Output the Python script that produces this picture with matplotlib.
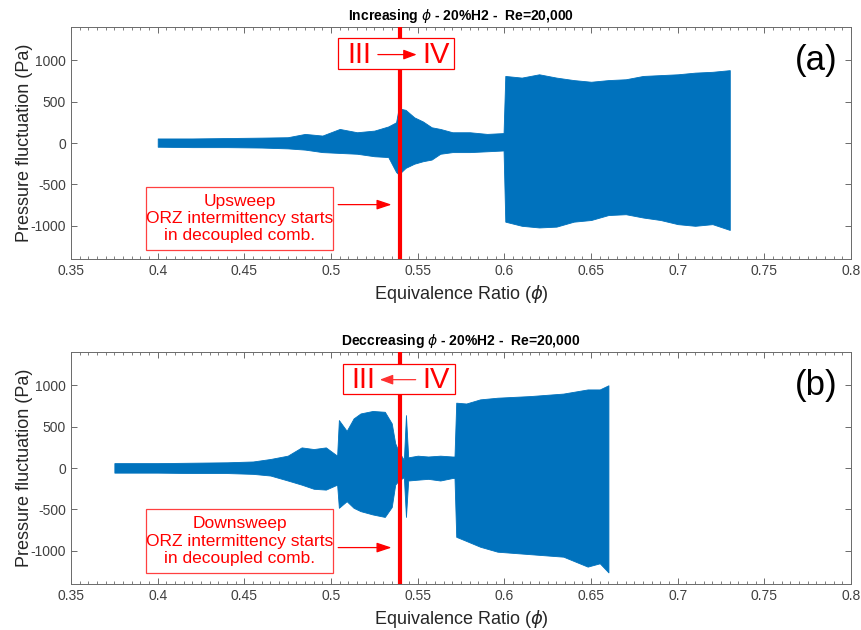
import matplotlib
matplotlib.use("Agg")
import matplotlib.pyplot as plt
from matplotlib.patches import Rectangle
from matplotlib.ticker import MultipleLocator, FuncFormatter

plt.rcParams['font.family'] = ['Liberation Sans', 'DejaVu Sans']
plt.rcParams['axes.unicode_minus'] = False

# envelope of the pressure signal
phi_a = [0.400, 0.420, 0.440, 0.460, 0.475, 0.485, 0.495, 0.505, 0.515, 0.525,
         0.533, 0.5375, 0.539, 0.543, 0.548, 0.553, 0.558, 0.563, 0.570, 0.580,
         0.590, 0.5995, 0.6005, 0.610, 0.620, 0.630, 0.640, 0.650, 0.660, 0.670,
         0.680, 0.690, 0.700, 0.710, 0.720, 0.730]
hi_a = [55, 55, 60, 65, 70, 110, 90, 170, 130, 150,
        200, 250, 420, 400, 310, 260, 190, 170, 130, 130,
        110, 120, 810, 790, 830, 790, 760, 740, 760, 770,
        810, 820, 830, 850, 860, 880]
lo_a = [-45, -50, -50, -55, -65, -80, -110, -120, -130, -160,
        -170, -350, -380, -300, -250, -220, -200, -130, -110, -110,
        -100, -90, -950, -1000, -1020, -1010, -950, -930, -870, -860,
        -900, -930, -980, -1000, -980, -1050]

phi_b = [0.375, 0.400, 0.420, 0.440, 0.455, 0.465, 0.475, 0.483, 0.490, 0.497,
         0.5035, 0.5045, 0.509, 0.513, 0.517, 0.524, 0.531, 0.535, 0.537, 0.539,
         0.542, 0.5432, 0.5445, 0.550, 0.556, 0.563, 0.570, 0.5712, 0.5722, 0.578,
         0.586, 0.596, 0.615, 0.634, 0.648, 0.655, 0.660]
hi_b = [60, 60, 65, 70, 80, 110, 150, 250, 230, 250,
        150, 580, 450, 600, 660, 690, 680, 540, 300, 200,
        100, 640, 130, 150, 140, 150, 140, 140, 790, 780,
        830, 850, 870, 900, 950, 950, 1000]
lo_b = [-55, -55, -60, -60, -70, -90, -150, -200, -250, -260,
        -200, -480, -400, -480, -520, -560, -590, -470, -200, -150,
        -110, -590, -150, -140, -130, -150, -120, -120, -830, -880,
        -950, -1010, -1040, -1070, -1190, -1150, -1260]

titles = [r"Increasing $\phi$ - 20%H2 -  Re=20,000",
          r"Deccreasing $\phi$ - 20%H2 -  Re=20,000"]
panel_labels = ["(a)", "(b)"]
notes = ["Upsweep\nORZ intermittency starts\nin decoupled comb.",
         "Downsweep\nORZ intermittency starts\nin decoupled comb."]
phi_switch = 0.54

blue = '#0072BD'
grey = '#404040'

fig = plt.figure(figsize=(8.62, 6.3), dpi=100)
ax1 = fig.add_axes([0.0824, 0.589, 0.905, 0.368])
ax2 = fig.add_axes([0.0824, 0.073, 0.905, 0.368])

panels = [(ax1, phi_a, hi_a, lo_a), (ax2, phi_b, hi_b, lo_b)]
for i, (ax, x, hi, lo) in enumerate(panels):
    ax.fill_between(x, lo, hi, color=blue, lw=0.6, zorder=2)
    ax.axvline(phi_switch, color='red', lw=3, zorder=3)

    ax.set_xlim(0.35, 0.8)
    ax.set_ylim(-1400, 1400)
    ax.xaxis.set_major_locator(MultipleLocator(0.05))
    ax.xaxis.set_minor_locator(MultipleLocator(0.005))
    ax.xaxis.set_major_formatter(FuncFormatter(lambda v, p: f"{round(v, 3):g}"))
    ax.set_yticks([-1000, -500, 0, 500, 1000])
    ax.tick_params(which='both', direction='in', top=True, right=True,
                   colors='#6a6a6a', labelcolor=grey, labelsize=10)
    ax.tick_params(which='major', length=4.5, width=0.7)
    ax.tick_params(which='minor', length=2.2, width=0.6)
    for s in ax.spines.values():
        s.set_color('#6a6a6a')
        s.set_linewidth(0.7)

    ax.set_xlabel(r"Equivalence Ratio ($\phi$)", fontsize=13, color='#262626')
    ax.set_ylabel("Pressure fluctuation (Pa)", fontsize=13, color='#262626',
                  labelpad=-2)
    ax.set_title(titles[i], fontsize=10, fontweight='bold', pad=5)
    ax.text(0.7798, 996, panel_labels[i], fontsize=25, ha='center',
            va='center', color='black')

    # III / IV box
    bx0, bx1 = (0.504, 0.571) if i == 0 else (0.5069, 0.5715)
    by0, by1 = (888, 1272) if i == 0 else (900, 1260)
    ax.add_patch(Rectangle((bx0, by0), bx1 - bx0, by1 - by0, facecolor='white',
                           edgecolor='red', lw=0.9, zorder=5))
    ax.text(0.5165 if i == 0 else 0.5185, (by0 + by1) / 2 - 20, "III",
            color='red', fontsize=21, ha='center', va='center', zorder=6)
    ax.text(0.5605, (by0 + by1) / 2 - 20, "IV", color='red', fontsize=21,
            ha='center', va='center', zorder=6)
    if i == 0:
        ax.annotate("", xy=(0.551, 1068), xytext=(0.5254, 1068), zorder=6,
                    arrowprops=dict(arrowstyle='-|>,head_length=0.8,head_width=0.3',
                                    color='red', lw=0.9))
    else:
        ax.annotate("", xy=(0.5265, 1068), xytext=(0.5504, 1068), zorder=6,
                    arrowprops=dict(arrowstyle='-|>,head_length=0.8,head_width=0.3',
                                    color='#ff3030', lw=0.9))

    # note box with arrow to the red line
    ny0, ny1 = (-1296, -528) if i == 0 else (-1272, -492)
    ax.add_patch(Rectangle((0.3933, ny0), 0.5012 - 0.3933, ny1 - ny0,
                           facecolor='white', edgecolor='#ff4040', lw=0.9,
                           zorder=5))
    ax.text(0.4475, (ny0 + ny1) / 2, notes[i], color='red', fontsize=12.5,
            ha='center', va='center', linespacing=1.2, zorder=6)
    ay = -744 if i == 0 else -960
    ax.annotate("", xy=(0.5365, ay), xytext=(0.5025, ay), zorder=6,
                arrowprops=dict(arrowstyle='-|>,head_length=0.9,head_width=0.3',
                                color='red', lw=0.9))

fig.savefig("out.png", dpi=100)
